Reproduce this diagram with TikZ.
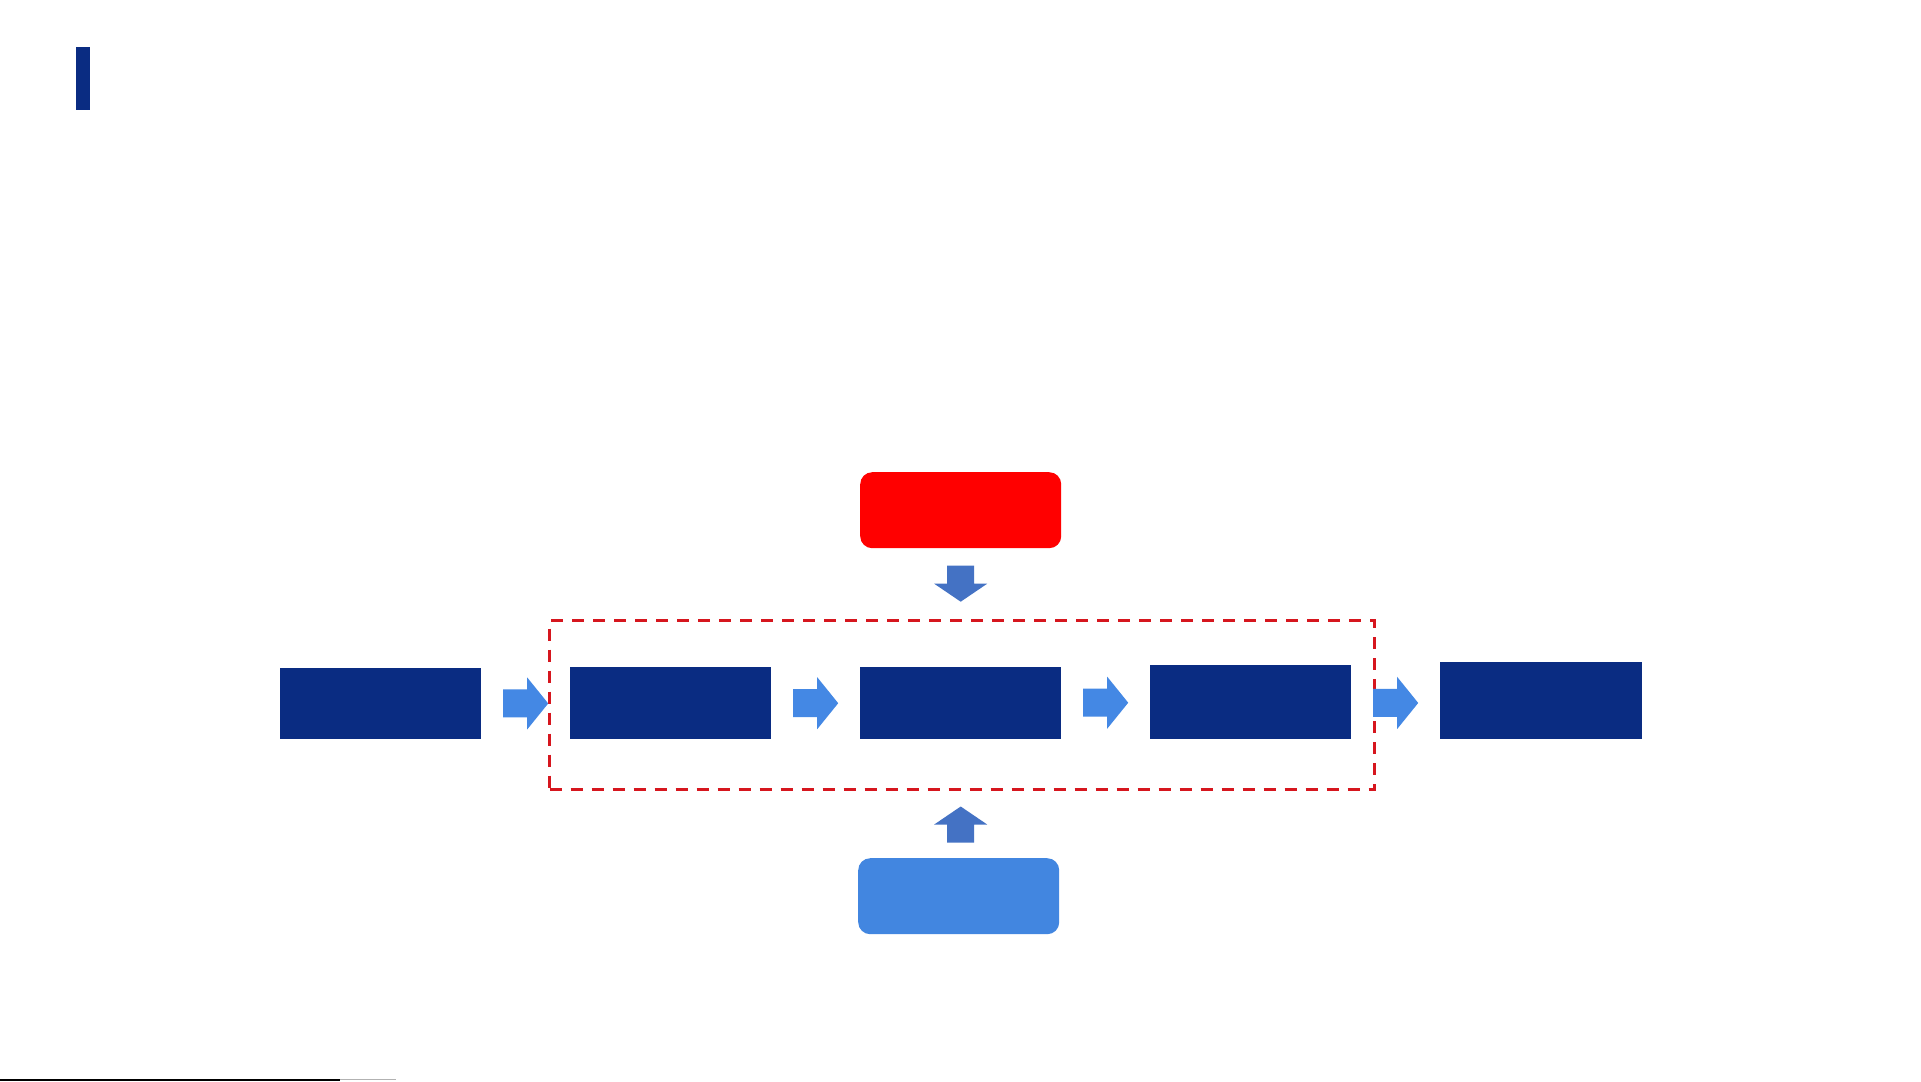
\documentclass[tikz,border=0pt]{standalone}
\usetikzlibrary{calc}
\definecolor{navy}{RGB}{10,44,130}
\definecolor{boxred}{RGB}{255,0,0}
\definecolor{lightbox}{RGB}{66,134,224}
\definecolor{harrowc}{RGB}{68,136,228}
\definecolor{varrowc}{RGB}{68,114,196}
\definecolor{dashred}{RGB}{214,22,30}
\tikzset{
  navybox/.style={rectangle,fill=navy,inner sep=0pt,anchor=north west},
  roundbox/.style={rectangle,rounded corners=12pt,inner sep=0pt,anchor=north west},
  pics/rarr/.style={code={\fill[harrowc] (-22.5,-14) -- (1.5,-14) -- (1.5,-26) -- (22.5,0) -- (1.5,26) -- (1.5,14) -- (-22.5,14) -- cycle;}},
  pics/darr/.style={code={\fill[varrowc] (-13.5,-18) -- (13.5,-18) -- (13.5,0) -- (26.5,0) -- (0,18) -- (-26.5,0) -- (-13.5,0) -- cycle;}},
  pics/uarr/.style={code={\fill[varrowc] (-13.5,18) -- (13.5,18) -- (13.5,0) -- (26.5,0) -- (0,-18) -- (-26.5,0) -- (-13.5,0) -- cycle;}}
}
\begin{document}
\begin{tikzpicture}[x=1pt,y=-1pt]
\useasboundingbox[fill=white] (0,0) rectangle (1921,1081);
% title bar
\node[navybox,minimum width=14pt,minimum height=63pt] (bar) at (76,47) {};
% frame
\node[rectangle,draw=dashred,line width=3pt,dash pattern=on 12pt off 9pt,inner sep=0pt,anchor=north west,minimum width=825pt,minimum height=169pt] (frame) at (548,619) {};
% process boxes
\node[navybox,minimum width=201pt,minimum height=71pt] (b1) at (280,668) {};
\node[navybox,minimum width=201pt,minimum height=72pt] (b2) at (570,667) {};
\node[navybox,minimum width=201pt,minimum height=72pt] (b3) at (860,667) {};
\node[navybox,minimum width=201pt,minimum height=74pt] (b4) at (1150,665) {};
\node[navybox,minimum width=202pt,minimum height=77pt] (b5) at (1440,662) {};
% top and bottom boxes
\node[roundbox,fill=boxred,minimum width=201pt,minimum height=76pt] (top) at (860,472) {};
\node[roundbox,fill=lightbox,minimum width=201pt,minimum height=76pt] (bot) at (858,858) {};
% horizontal arrows
\pic at ($(b1.east)!0.5!(b2.west)$) {rarr};
\pic at ($(b2.east)!0.5!(b3.west)$) {rarr};
\pic at ($(b3.east)!0.5!(b4.west)$) {rarr};
\pic at ($(b4.east)!0.5!(b5.west)+(0,1.5)$) {rarr};
% vertical arrows
\coordinate (ftop) at (top.south |- frame.north);
\coordinate (fbot) at (top.south |- frame.south);
\coordinate (bnorth) at (top.south |- bot.north);
\pic at ($(top.south)!0.5!(ftop)$) {darr};
\pic at ($(fbot)!0.5!(bnorth)$) {uarr};
% bottom rule
\coordinate (r0) at (0,1079.5);
\coordinate (r1) at (340,1079.5);
\coordinate (r2) at (396,1079.5);
\draw[black,line width=2pt] (r0) -- (r1);
\draw[gray!60,line width=1.5pt] (r1) -- (r2);
\end{tikzpicture}
\end{document}
